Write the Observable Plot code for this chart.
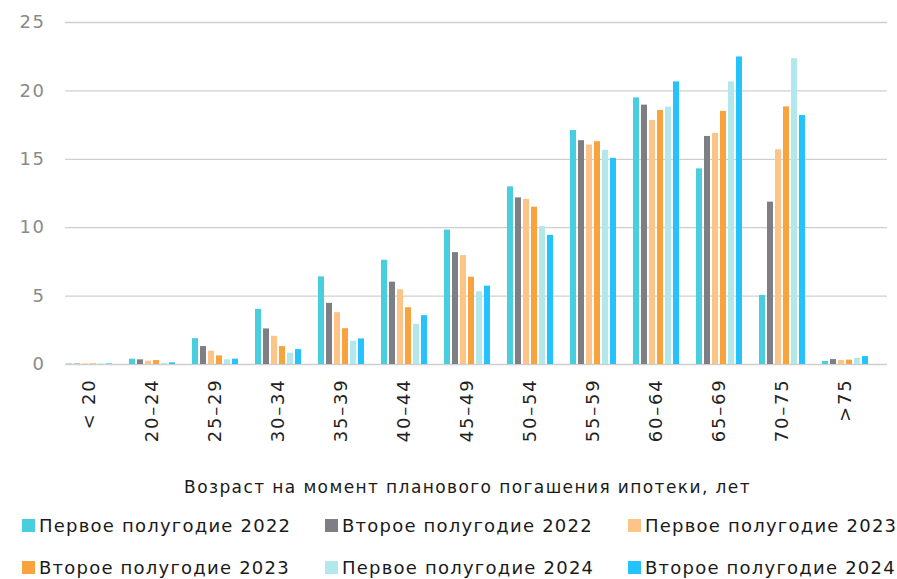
<!DOCTYPE html>
<html>
<head>
<meta charset="utf-8">
<script src="https://cdn.jsdelivr.net/npm/d3@7"></script>
<script src="https://cdn.jsdelivr.net/npm/@observablehq/plot@0.6"></script>
<style>
  body { margin: 0; background: #fff; font-family: "DejaVu Sans", sans-serif; }
  #legend { position: relative; width: 897px; height: 79px; }
  .item { position: absolute; display: flex; align-items: center; font-size: 18px; letter-spacing: 1.22px; color: #1a1a1a; white-space: nowrap; }
  .sw { width: 13px; height: 13px; margin-right: 4px; }
  svg g[aria-label="fx-axis tick label"] text { letter-spacing: 1.8px; }
  svg g[aria-label="text"] text { letter-spacing: 1.4px; }
  svg g[aria-label="y-axis tick label"] text { letter-spacing: 1.5px; }
</style>
</head>
<body>
<div id="chart"></div>
<div id="legend"></div>
<script>
const categories = ["< 20", "20–24", "25–29", "30–34", "35–39", "40–44", "45–49", "50–54", "55–59", "60–64", "65–69", "70–75", ">75"];
const seriesNames = ["Первое полугодие 2022", "Второе полугодие 2022", "Первое полугодие 2023", "Второе полугодие 2023", "Первое полугодие 2024", "Второе полугодие 2024"];
const seriesColors = ["#48CEDF", "#7E7F85", "#FDC487", "#F9A33F", "#B2E7EC", "#24C3FE"];
const h1_2022 = [0.03, 0.39, 1.89, 4.03, 6.41, 7.62, 9.83, 12.99, 17.11, 19.49, 14.30, 5.05, 0.22];
const h2_2022 = [0.03, 0.34, 1.31, 2.60, 4.47, 6.02, 8.18, 12.18, 16.36, 18.96, 16.67, 11.87, 0.36];
const h1_2023 = [0.04, 0.24, 0.97, 2.06, 3.79, 5.46, 7.96, 12.06, 16.04, 17.84, 16.89, 15.70, 0.29];
const h2_2023 = [0.04, 0.29, 0.63, 1.31, 2.62, 4.15, 6.38, 11.50, 16.29, 18.57, 18.50, 18.83, 0.32];
const h1_2024 = [0.03, 0.07, 0.34, 0.83, 1.70, 2.94, 5.32, 10.07, 15.66, 18.81, 20.66, 22.35, 0.44];
const h2_2024 = [0.04, 0.12, 0.39, 1.09, 1.87, 3.57, 5.73, 9.44, 15.07, 20.66, 22.48, 18.20, 0.58];
const yTicks = [0, 5, 10, 15, 20, 25];
const xTitle = "Возраст на момент планового погашения ипотеки, лет";

const seriesValues = [h1_2022, h2_2022, h1_2023, h2_2023, h1_2024, h2_2024];
const data = [];
categories.forEach((c, i) => {
  seriesNames.forEach((s, j) => data.push({cat: c, series: s, value: seriesValues[j][i]}));
});

const W = 897, ML = 56, MR = 19;
const chart = Plot.plot({
  width: W,
  height: 500,
  marginTop: 22,
  marginBottom: 136,
  marginLeft: ML,
  marginRight: MR,
  style: {fontFamily: "'DejaVu Sans', sans-serif", background: "#fff"},
  fx: {domain: categories, paddingInner: 0.238, paddingOuter: 0.119, label: null},
  x: {domain: seriesNames, paddingInner: 0.22, paddingOuter: 0, axis: null},
  y: {domain: [0, 25], ticks: yTicks, label: null},
  color: {domain: seriesNames, range: seriesColors},
  marks: [
    Plot.axisY(yTicks, {tickSize: -(W - ML - MR), text: null, stroke: "#cfcfcf", strokeWidth: 1.3, label: null}),
    Plot.axisY(yTicks, {tickSize: 0, tickPadding: 20, fontSize: 18, fill: "#8a8a8a", label: null}),
    Plot.barY(data, {fx: "cat", x: "series", y: "value", fill: "series"}),
    Plot.axisFx({anchor: "bottom", tickSize: 0, tickRotate: -90, tickPadding: 14, fontSize: 18, fill: "#222", label: null}),
    Plot.text([xTitle], {facet: "super", frameAnchor: "bottom", dy: 128, fontSize: 17, fill: "#1a1a1a"})
  ]
});
document.getElementById("chart").appendChild(chart);

const legend = document.getElementById("legend");
const pos = [[22, 25], [325, 25], [628, 25], [22, 67], [325, 67], [628, 67]];
seriesNames.forEach((s, j) => {
  const it = document.createElement("div");
  it.className = "item";
  it.style.left = pos[j][0] + "px";
  it.style.top = (pos[j][1] - 12) + "px";
  it.style.height = "24px";
  const sw = document.createElement("span");
  sw.className = "sw";
  sw.style.background = seriesColors[j];
  const tx = document.createElement("span");
  tx.textContent = s;
  it.appendChild(sw);
  it.appendChild(tx);
  legend.appendChild(it);
});
</script>
</body>
</html>
